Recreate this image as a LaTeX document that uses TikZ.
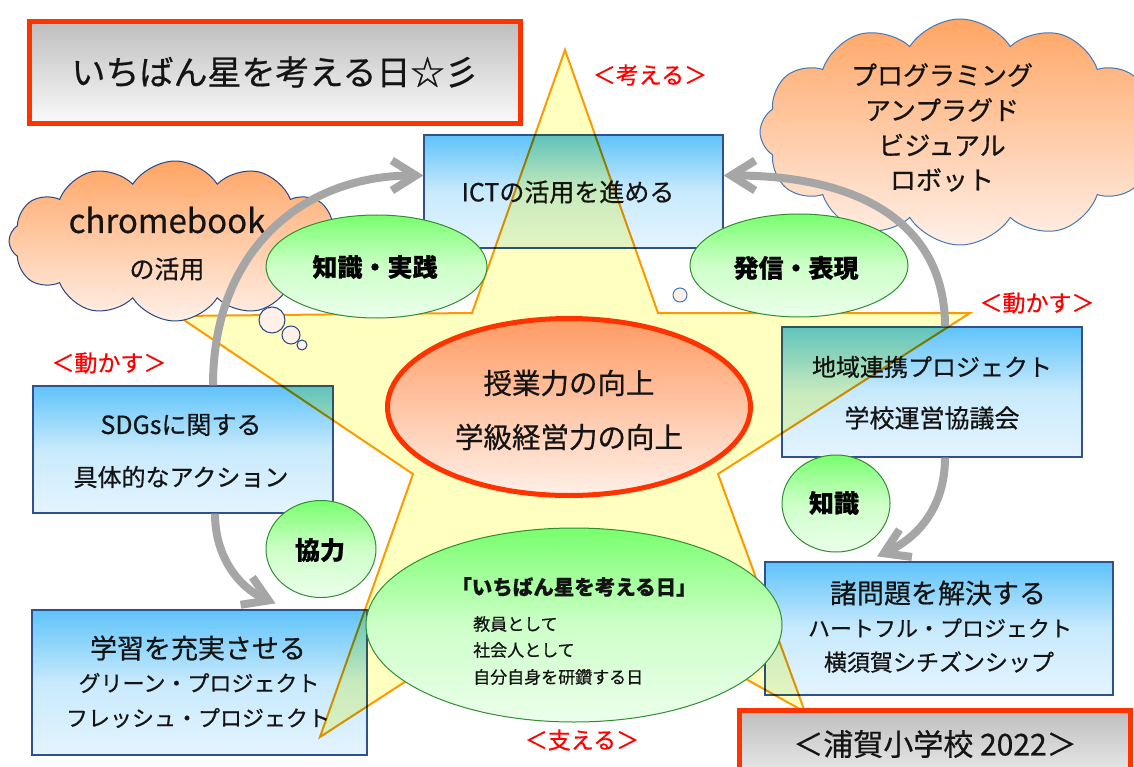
\documentclass[tikz,border=0pt]{standalone}
\usepackage{fontspec}
\setmainfont{Noto Sans CJK JP}[FakeBold=0.6]
\usetikzlibrary{shapes.geometric,shapes.symbols,arrows.meta}
\definecolor{boxline}{RGB}{47,82,143}
\definecolor{boxtop}{RGB}{95,195,250}
\definecolor{boxmid}{RGB}{200,234,252}
\definecolor{boxbot}{RGB}{228,244,255}
\definecolor{starfill}{RGB}{255,255,192}
\definecolor{starline}{RGB}{255,153,0}
\definecolor{cloudtop}{RGB}{255,165,100}
\definecolor{cloudbot}{RGB}{255,240,232}
\definecolor{cloudline}{RGB}{40,70,130}
\definecolor{cloudlineR}{RGB}{70,120,180}
\definecolor{greentop}{RGB}{120,255,110}
\definecolor{greenmid}{RGB}{205,255,200}
\definecolor{greenbot}{RGB}{235,255,235}
\definecolor{greenline}{RGB}{50,140,50}
\definecolor{redline}{RGB}{255,51,0}
\definecolor{labelred}{RGB}{255,0,0}
\definecolor{arrowgray}{RGB}{166,166,166}
\definecolor{graytop}{RGB}{190,190,190}
\definecolor{graybot}{RGB}{250,250,250}
\definecolor{coretop}{RGB}{255,155,100}
\definecolor{corebot}{RGB}{255,240,232}
\definecolor{txt}{RGB}{20,20,20}
\newcommand{\fsz}[1]{\fontsize{#1}{#1}\selectfont}
\tikzset{
  bluebox/.style={rectangle, draw=boxline, line width=1.2pt, inner sep=0pt,
    top color=boxtop, bottom color=boxbot, middle color=boxmid},
  graybox/.style={rectangle, draw=redline, line width=5pt, inner sep=0pt,
    top color=graytop, bottom color=graybot},
  greenell/.style={ellipse, draw=greenline, line width=1pt, inner sep=0pt,
    top color=greentop, bottom color=greenbot, middle color=greenmid},
  coreell/.style={ellipse, draw=redline, line width=5pt, inner sep=0pt,
    top color=coretop, bottom color=corebot},
  cloudshape/.style={cloud, cloud puffs=12, cloud puff arc=115, draw=cloudline,
    line width=1pt, inner sep=0pt, top color=cloudtop, bottom color=cloudbot},
  bubble/.style={circle, draw=cloudline, line width=1pt, fill=cloudbot, inner sep=0pt},
  flowarrow/.style={draw=arrowgray, line width=8pt,
    -{Straight Barb[length=24pt,width=30pt,line width=8pt]}},
  redlabel/.style={text=labelred, font=\fsz{23}, inner sep=0pt},
  boxtext/.style={text=txt, inner sep=0pt},
  boldtext/.style={text=black, font=\fsz{25}\bfseries, inner sep=0pt},
}
\begin{document}
\begin{tikzpicture}[x=1pt,y=-1pt]
\useasboundingbox (0,0) rectangle (1134,767);
\clip (0,0) rectangle (1134,767);
\fill[white] (0,0) rectangle (1134,767);

% boxes
\node[bluebox, minimum width=299pt, minimum height=113pt] (ict) at (573.5,191.5) {};
\node[boxtext, font=\fsz{25}] (ictt) at (568,192) {ICTの活用を進める};

\node[bluebox, minimum width=300pt, minimum height=127pt] (sdgs) at (183,449.5) {};
\node[boxtext, font=\fsz{25}] (sdgs1) at (181,425) {SDGsに関する};
\node[boxtext, font=\fsz{24}] (sdgs2) at (181,477) {具体的なアクション};

\node[bluebox, minimum width=335pt, minimum height=145pt] (learn) at (199.5,682.5) {};
\node[boxtext, font=\fsz{27}] (learn1) at (198,648) {学習を充実させる};
\node[boxtext, font=\fsz{22}] (learn2) at (199,683) {グリーン・プロジェクト};
\node[boxtext, font=\fsz{22}] (learn3) at (198,718) {フレッシュ・プロジェクト};

\node[bluebox, minimum width=300pt, minimum height=130pt] (chiiki) at (932,392) {};
\node[boxtext, font=\fsz{24}] (chiiki1) at (932,367) {地域連携プロジェクト};
\node[boxtext, font=\fsz{25}] (chiiki2) at (932,418) {学校運営協議会};

\node[bluebox, minimum width=348pt, minimum height=133pt] (shomon) at (939,628.5) {};
\node[boxtext, font=\fsz{27}] (shomon1) at (938,593) {諸問題を解決する};
\node[boxtext, font=\fsz{22}] (shomon2) at (940,628) {ハートフル・プロジェクト};
\node[boxtext, font=\fsz{23}] (shomon3) at (939,662) {横須賀シチズンシップ};

% star
\begin{scope}[blend mode=multiply]
\draw[starline, line width=2pt, fill=starfill, line join=miter]
  (565,50) -- (658,313) -- (970,313) -- (718,474) -- (805,712) -- (565,578)
  -- (320,737) -- (413,474) -- (178,316) -- (472,313) -- cycle;
\end{scope}

% clouds
\node[cloudshape, minimum width=332pt, minimum height=160pt] (cloudL) at (175,241) {};
\node[boxtext, font=\fsz{33}] (cloudL1) at (167,220) {chromebook};
\node[boxtext, font=\fsz{25}] (cloudL2) at (167,269) {の活用};
\node[bubble, minimum size=26pt] (bubL1) at (272,320) {};
\node[bubble, minimum size=18pt] (bubL2) at (291,335) {};
\node[bubble, minimum size=10pt] (bubL3) at (302,345) {};

\node[cloudshape, draw=cloudlineR, minimum width=400pt, minimum height=226pt] (cloudR) at (960,132) {};
\node[boxtext, font=\fsz{26}] (cloudR1) at (942,75) {プログラミング};
\node[boxtext, font=\fsz{26}] (cloudR2) at (942,110) {アンプラグド};
\node[boxtext, font=\fsz{26}] (cloudR3) at (942,145) {ビジュアル};
\node[boxtext, font=\fsz{26}] (cloudR4) at (942,180) {ロボット};
\node[bubble, draw=cloudlineR, minimum size=14pt] (bubR) at (680,295) {};

% arrows
\draw[flowarrow] ([xshift=30pt]sdgs.north) .. controls +(0,-136) and +(-120,0) .. ([yshift=16pt]ict.west);
\draw[flowarrow] ([xshift=13pt]chiiki.north) .. controls +(0,-100) and +(140,0) .. ([yshift=16pt]ict.east);
\draw[flowarrow] ([xshift=32pt]sdgs.south) .. controls +(0,45) and +(-35,-15) .. ([xshift=76pt,yshift=6pt]learn.north);
\draw[flowarrow] ([xshift=13pt]chiiki.south) .. controls +(0,55) and +(35,-16) .. ([xshift=-62pt,yshift=5pt]shomon.north);

% ellipses
\node[greenell, minimum width=221pt, minimum height=103pt] (kp) at (376.5,266.5) {};
\node[boldtext] (kpt) at (375,267) {知識・実践};
\node[greenell, minimum width=218pt, minimum height=103pt] (hh) at (799,265.5) {};
\node[boldtext] (hht) at (796,268) {発信・表現};
\node[greenell, minimum width=110pt, minimum height=97pt] (kr) at (321,549) {};
\node[boldtext] (krt) at (320,550) {協力};
\node[greenell, minimum width=108pt, minimum height=97pt] (cs) at (836,503.5) {};
\node[boldtext] (cst) at (834,503) {知識};

\node[coreell, minimum width=363pt, minimum height=177pt] (core) at (569,407) {};
\node[boxtext, font=\fsz{28.5}] (core1) at (569,383) {授業力の向上};
\node[boxtext, font=\fsz{28.5}] (core2) at (569,437) {学級経営力の向上};

\node[greenell, minimum width=416pt, minimum height=194pt] (day) at (574,625) {};
\node[boxtext, font=\fsz{20.5}\bfseries] (day1) at (574,587) {「いちばん星を考える日」};
\node[boxtext, font=\fsz{17}, anchor=west] (day2) at (473,624) {教員として};
\node[boxtext, font=\fsz{17}, anchor=west] (day3) at (473,650) {社会人として};
\node[boxtext, font=\fsz{17}, anchor=west] (day4) at (473,677) {自分自身を研鑽する日};

% title boxes
\node[graybox, minimum width=491pt, minimum height=102pt] (title) at (275,72.5) {};
\node[boxtext, font=\fsz{34}] (titlet) at (275,72) {いちばん星を考える日☆彡};
\node[graybox, minimum width=391pt, minimum height=90pt] (school) at (935,755.5) {};
\node[boxtext, font=\fsz{30}] (schoolt) at (935,744) {＜浦賀小学校 2022＞};

% red labels
\node[redlabel] (think) at (650,75) {＜考える＞};
\node[redlabel] (moveR) at (1037,303) {＜動かす＞};
\node[redlabel] (moveL) at (109,363) {＜動かす＞};
\node[redlabel] (support) at (582,740) {＜支える＞};
\end{tikzpicture}
\end{document}
